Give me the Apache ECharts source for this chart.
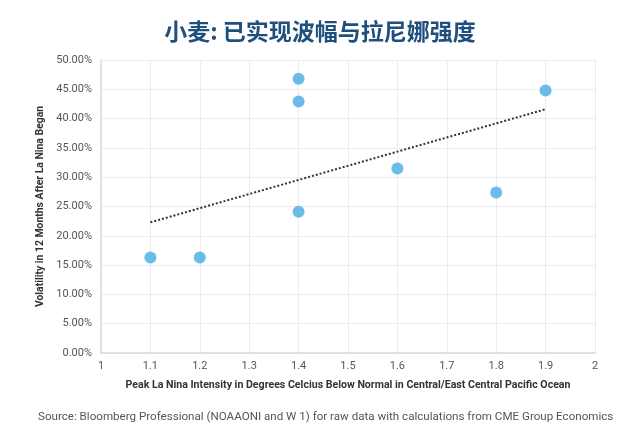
<!DOCTYPE html>
<html>
<head>
<meta charset="utf-8">
<script src="https://cdn.jsdelivr.net/npm/echarts@6/dist/echarts.min.js"></script>
<style>
  html, body { margin: 0; padding: 0; background: #fff; }
  #main { width: 640px; height: 444px; }
</style>
</head>
<body>
<div id="main"></div>
<script>
// peak La Nina intensity (deg C below normal) and 12-month volatility (%)
var intensity = [1.1, 1.2, 1.4, 1.4, 1.4, 1.6, 1.8, 1.9];
var volatility = [16.3, 16.3, 46.8, 42.9, 24.1, 31.5, 27.4, 44.8];
// dotted trend line end points
var trendX = [1.1, 1.9];
var trendY = [22.3, 41.6];

var points = intensity.map(function (x, i) { return [x, volatility[i]]; });
var trend = trendX.map(function (x, i) { return [x, trendY[i]]; });

var myChart = echarts.init(document.getElementById('main'));
myChart.setOption({
  animation: false,
  backgroundColor: '#fff',
  title: {
    text: '小麦: 已实现波幅与拉尼娜强度',
    left: 'center',
    top: 15,
    textStyle: {
      fontFamily: 'Noto Sans CJK SC',
      fontSize: 23,
      fontWeight: 'bold',
      color: '#1f4f7d'
    }
  },
  graphic: [{
    type: 'text',
    left: 38,
    top: 411,
    style: {
      text: 'Source: Bloomberg Professional (NOAAONI and W 1) for raw data with calculations from CME Group Economics',
      font: '11.6px Roboto',
      fill: '#555'
    }
  }],
  grid: { left: 101, right: 45, top: 60, bottom: 91 },
  xAxis: {
    type: 'value',
    min: 1,
    max: 2,
    interval: 0.1,
    name: 'Peak La Nina Intensity in Degrees Celcius Below Normal in Central/East Central Pacific Ocean',
    nameLocation: 'middle',
    nameGap: 27,
    nameTextStyle: { fontFamily: 'Roboto', fontSize: 10.6, fontWeight: 'bold', color: '#333' },
    axisLine: { lineStyle: { color: '#dcdce0', width: 1.5 } },
    axisTick: { show: false },
    axisLabel: { fontFamily: 'Roboto', fontSize: 11, color: '#555', margin: 8 },
    splitLine: { show: true, lineStyle: { color: '#ececf0' } }
  },
  yAxis: {
    type: 'value',
    min: 0,
    max: 50,
    interval: 5,
    name: 'Volatility in 12 Months After La Nina Began',
    nameLocation: 'middle',
    nameRotate: 90,
    nameGap: 52,
    nameTextStyle: { fontFamily: 'Roboto', fontSize: 10.4, fontWeight: 'bold', color: '#333' },
    axisLine: { show: true, lineStyle: { color: '#dcdce0', width: 1.5 } },
    axisTick: { show: false },
    axisLabel: {
      fontFamily: 'Roboto', fontSize: 11, color: '#555', margin: 9,
      formatter: function (v) { return v.toFixed(2) + '%'; }
    },
    splitLine: { show: true, lineStyle: { color: '#ececf0' } }
  },
  series: [
    {
      type: 'line',
      data: trend,
      symbol: 'none',
      lineStyle: { color: '#333', width: 2, type: [2, 2] },
      z: 1
    },
    {
      type: 'scatter',
      data: points,
      symbolSize: 12,
      itemStyle: { color: '#47abe2' },
      z: 2
    }
  ]
});
</script>
</body>
</html>
